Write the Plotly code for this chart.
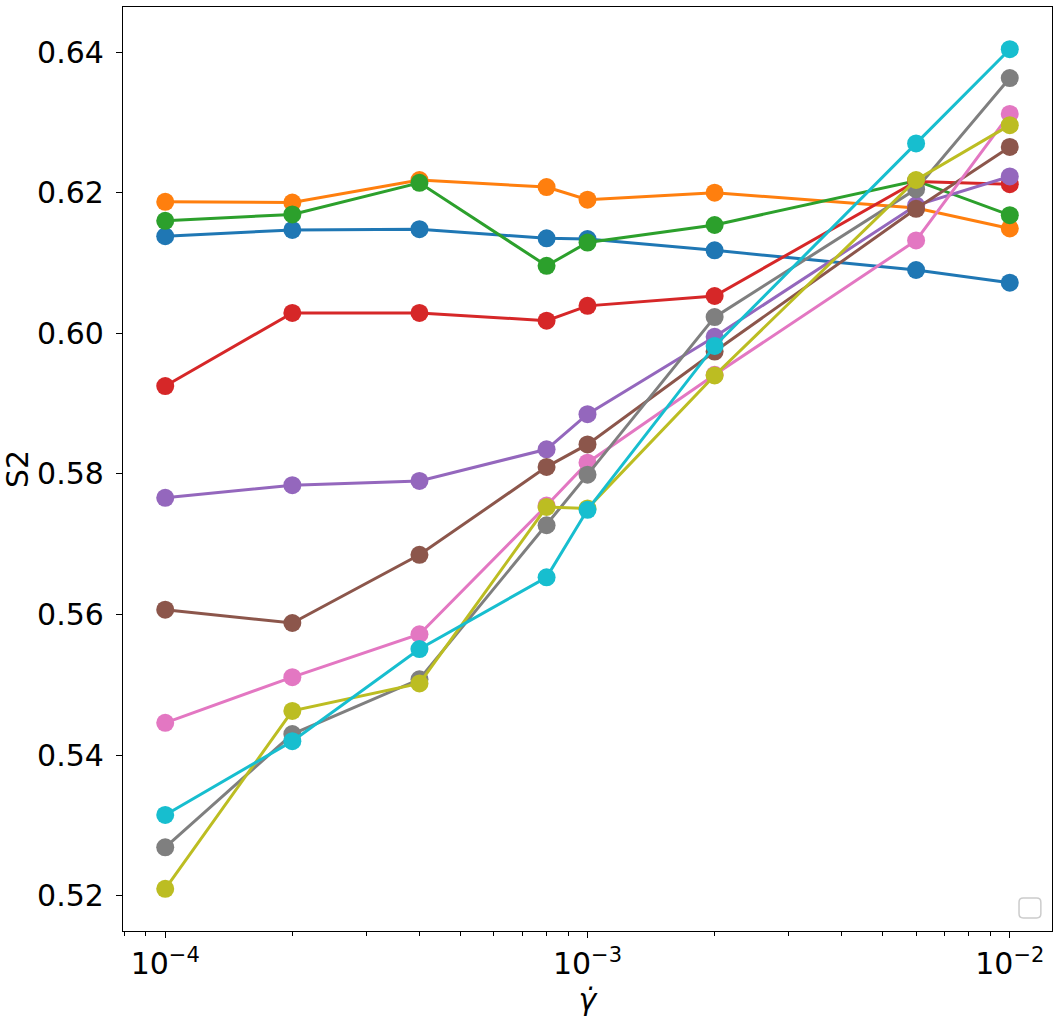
import plotly.graph_objects as go

shear_rate = [1e-4, 2e-4, 4e-4, 8e-4, 1e-3, 2e-3, 6e-3, 1e-2]

s2_blue = [0.6138, 0.6147, 0.6148, 0.6135, 0.6134, 0.6118, 0.6090, 0.6072]
s2_orange = [0.6187, 0.6186, 0.6218, 0.6208, 0.6190, 0.6200, 0.6178, 0.6149]
s2_green = [0.6160, 0.6169, 0.6214, 0.6096, 0.6129, 0.6154, 0.6217, 0.6168]
s2_red = [0.5925, 0.6029, 0.6029, 0.6018, 0.6039, 0.6053, 0.6216, 0.6212]
s2_purple = [0.5766, 0.5784, 0.5790, 0.5835, 0.5885, 0.5995, 0.6182, 0.6223]
s2_brown = [0.5607, 0.5588, 0.5685, 0.5810, 0.5842, 0.5974, 0.6177, 0.6265]
s2_pink = [0.5446, 0.5511, 0.5572, 0.5755, 0.5816, 0.5941, 0.6132, 0.6312]
s2_gray = [0.5269, 0.5430, 0.5508, 0.5727, 0.5799, 0.6023, 0.6205, 0.6363]
s2_olive = [0.5210, 0.5463, 0.5502, 0.5753, 0.5751, 0.5940, 0.6218, 0.6296]
s2_cyan = [0.5315, 0.5420, 0.5551, 0.5653, 0.5749, 0.5982, 0.6270, 0.6404]

series = [s2_blue, s2_orange, s2_green, s2_red, s2_purple,
          s2_brown, s2_pink, s2_gray, s2_olive, s2_cyan]
colors = ["#1f77b4", "#ff7f0e", "#2ca02c", "#d62728", "#9467bd",
          "#8c564b", "#e377c2", "#7f7f7f", "#bcbd22", "#17becf"]

y_ticks = [0.52, 0.54, 0.56, 0.58, 0.60, 0.62, 0.64]
y_tick_labels = ["0.52", "0.54", "0.56", "0.58", "0.60", "0.62", "0.64"]
x_ticks = [1e-4, 1e-3, 1e-2]
x_tick_labels = ["10<sup>\u22124</sup>", "10<sup>\u22123</sup>", "10<sup>\u22122</sup>"]

fig = go.Figure()
for ys, c in zip(series, colors):
    fig.add_trace(go.Scatter(
        x=shear_rate, y=ys, mode="lines+markers",
        line=dict(color=c, width=3),
        marker=dict(color=c, size=18),
        showlegend=False,
    ))

minor_vals = [m * 10 ** e for e in (-5, -4, -3, -2) for m in range(2, 10)]

font = dict(family="DejaVu Sans", size=30, color="black")

fig.update_layout(
    width=1061, height=1023,
    margin=dict(l=123, r=9, t=7, b=92),
    plot_bgcolor="white", paper_bgcolor="white",
    font=font,
    showlegend=False,
)
fig.update_xaxes(
    type="log", range=[-4.1, -1.9],
    tickvals=x_ticks, ticktext=x_tick_labels,
    ticks="outside", ticklen=6, tickwidth=1.3, tickcolor="black",
    showline=True, linecolor="black", linewidth=1.3, mirror=True,
    showgrid=False, zeroline=False,
    minor=dict(tickvals=minor_vals, ticks="outside", ticklen=3.5,
               tickwidth=1, tickcolor="black", showgrid=False),
    title=dict(text="<i>\u03b3\u0307</i>", standoff=8, font=font),
    tickfont=font,
)
fig.update_yaxes(
    range=[0.5150, 0.6464],
    tickvals=y_ticks, ticktext=y_tick_labels,
    ticks="outside", ticklen=6, tickwidth=1.3, tickcolor="black",
    showline=True, linecolor="black", linewidth=1.3, mirror=True,
    showgrid=False, zeroline=False,
    ticklabelstandoff=6,
    title=dict(text="S2", standoff=10, font=font),
    tickfont=font,
)

# empty legend frame (bottom right)
x0, x1, y0, y1, r = 0.9645, 0.988, 0.0141, 0.0357, 0.0045
fig.add_shape(
    type="path", xref="paper", yref="paper",
    path=(f"M {x0+r},{y0} L {x1-r},{y0} Q {x1},{y0} {x1},{y0+r} "
          f"L {x1},{y1-r} Q {x1},{y1} {x1-r},{y1} L {x0+r},{y1} "
          f"Q {x0},{y1} {x0},{y1-r} L {x0},{y0+r} Q {x0},{y0} {x0+r},{y0} Z"),
    line=dict(color="#cccccc", width=1.5), fillcolor="rgba(255,255,255,0.8)",
)

fig.write_html("out.html")
